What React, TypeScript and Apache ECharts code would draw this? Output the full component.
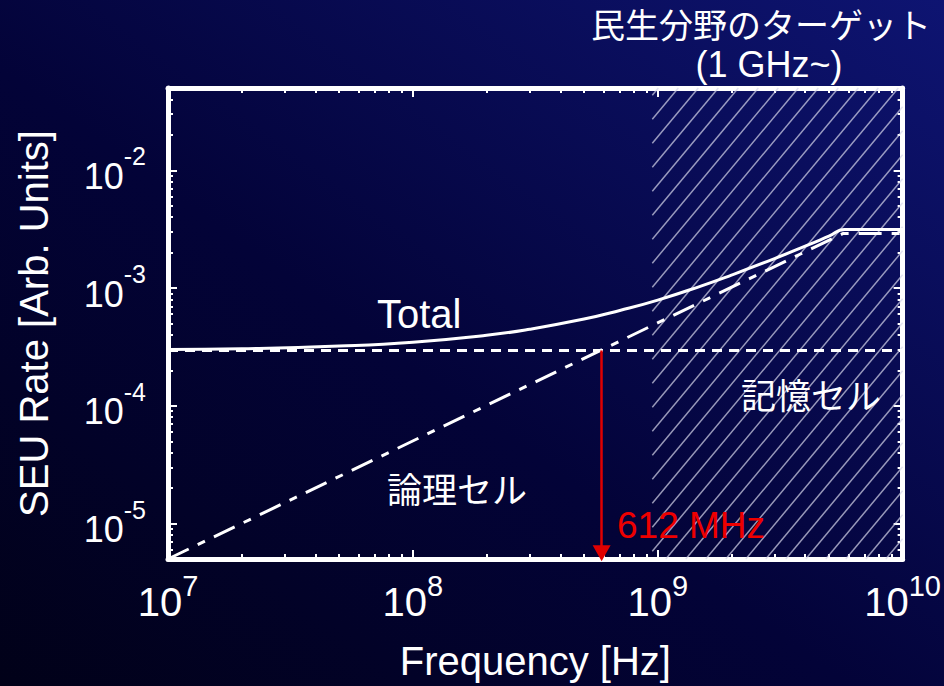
import React, { useEffect, useRef } from 'react';
import * as echarts from 'echarts';

// ---- data ----
const xRange = [1e7, 1e10];
const yRange = [5e-6, 5e-2];
const xMajorTicks = [1e7, 1e8, 1e9, 1e10];
const yMajorTicks = [1e-5, 1e-4, 1e-3, 1e-2];

const memoryFreq = [1e7, 1e10];
const memoryRate = [2.95e-4, 2.95e-4];

const logicFreq = [1e7, 5.7e9, 1e10];
const logicRate = [5.0e-6, 2.9e-3, 2.9e-3];

const totalFreq = [1e7, 2e7, 5e7, 1e8, 2e8, 3e8, 5e8, 7e8, 1e9, 1.5e9, 2e9, 3e9, 4e9, 5e9, 5.8e9, 1e10];
const totalRate = [3.0e-4, 3.05e-4, 3.22e-4, 3.47e-4, 3.97e-4, 4.47e-4, 5.45e-4, 6.45e-4, 7.9e-4, 1.04e-3, 1.29e-3, 1.78e-3, 2.27e-3, 2.76e-3, 3.15e-3, 3.15e-3];

const arrowFreq = 5.9e8;
const arrowTop = 2.95e-4;
const arrowBottom = 5.6e-6;
const hatchStartFreq = 0.95e9;

const titleLine1 = '民生分野のターゲット';
const titleLine2 = '(1 GHz~)';
const xName = 'Frequency [Hz]';
const yName = 'SEU Rate [Arb. Units]';
const labelTotal = 'Total';
const labelLogic = '論理セル';
const labelMemory = '記憶セル';
const labelFreq = '612 MHz';

const LATIN = '"Liberation Sans", Arial, sans-serif';
const CJK = '"Noto Sans CJK JP", "Noto Sans CJK SC", sans-serif';

function minorTicks(min: number, max: number): number[] {
  const out: number[] = [];
  let d = Math.pow(10, Math.floor(Math.log10(min)));
  while (d < max) {
    for (let m = 2; m <= 9; m++) {
      const v = m * d;
      if (v > min * 1.0001 && v < max * 0.9999) out.push(v);
    }
    d *= 10;
  }
  return out;
}

const zip = (a: number[], b: number[]) => a.map((v, i) => [v, b[i]]);

export default function App() {
  const ref = useRef<HTMLDivElement>(null);
  useEffect(() => {
    document.body.style.margin = '0';
    if (!ref.current) return;
    const chart = echarts.init(ref.current, undefined, { renderer: 'svg' });
    const xMinor = minorTicks(xRange[0], xRange[1]);
    const yMinor = minorTicks(yRange[0], yRange[1]);
    const expFmt = (v: number) => `{b|10}{s|${Math.round(Math.log10(v))}}`;

    const baseX = {
      type: 'log' as const,
      logBase: 10,
      min: xRange[0],
      max: xRange[1],
      gridIndex: 0,
      splitLine: { show: false },
      minorTick: { show: false },
    };
    const baseY = {
      type: 'log' as const,
      logBase: 10,
      min: yRange[0],
      max: yRange[1],
      gridIndex: 0,
      splitLine: { show: false },
      minorTick: { show: false },
    };
    const frame = { show: true, lineStyle: { color: '#ffffff', width: 5 } };

    chart.setOption({
      animation: false,
      backgroundColor: {
        type: 'linear',
        x: 0, y: 1, x2: 1, y2: 0,
        colorStops: [
          { offset: 0, color: '#010118' },
          { offset: 0.45, color: '#030338' },
          { offset: 1, color: '#0e1472' },
        ],
      },
      grid: { left: 168, right: 38, top: 88, bottom: 124 },
      xAxis: [
        {
          ...baseX,
          position: 'bottom',
          axisLine: frame,
          axisTick: { show: true, inside: true, length: 9, customValues: xMajorTicks, lineStyle: { color: '#fff', width: 2 } },
          axisLabel: {
            show: true,
            customValues: xMajorTicks,
            margin: 12,
            formatter: expFmt,
            rich: {
              b: { fontSize: 40, color: '#fff', fontFamily: LATIN },
              s: { fontSize: 29, color: '#fff', fontFamily: LATIN, padding: [0, 0, 32, 0] },
            },
          },
          name: xName,
          nameLocation: 'middle',
          nameGap: 82,
          nameTextStyle: { fontSize: 40, color: '#fff', fontFamily: LATIN },
        },
        {
          ...baseX,
          position: 'bottom',
          axisLine: { show: false },
          axisTick: { show: true, inside: true, length: 5, customValues: xMinor, lineStyle: { color: '#fff', width: 2 } },
          axisLabel: { show: false },
        },
        {
          ...baseX,
          position: 'top',
          axisLine: frame,
          axisTick: { show: true, inside: true, length: 9, customValues: xMajorTicks, lineStyle: { color: '#fff', width: 2 } },
          axisLabel: { show: false },
        },
        {
          ...baseX,
          position: 'top',
          axisLine: { show: false },
          axisTick: { show: true, inside: true, length: 5, customValues: xMinor, lineStyle: { color: '#fff', width: 2 } },
          axisLabel: { show: false },
        },
      ],
      yAxis: [
        {
          ...baseY,
          position: 'left',
          axisLine: frame,
          axisTick: { show: true, inside: true, length: 9, customValues: yMajorTicks, lineStyle: { color: '#fff', width: 2 } },
          axisLabel: {
            show: true,
            customValues: yMajorTicks,
            margin: 22,
            formatter: expFmt,
            rich: {
              b: { fontSize: 36, color: '#fff', fontFamily: LATIN, padding: [12, 0, 0, 0] },
              s: { fontSize: 25, color: '#fff', fontFamily: LATIN, padding: [0, 0, 28, 0] },
            },
          },
          name: yName,
          nameLocation: 'middle',
          nameRotate: 90,
          nameGap: 114,
          nameTextStyle: { fontSize: 40, color: '#fff', fontFamily: LATIN },
        },
        {
          ...baseY,
          position: 'left',
          axisLine: { show: false },
          axisTick: { show: true, inside: true, length: 5, customValues: yMinor, lineStyle: { color: '#fff', width: 2 } },
          axisLabel: { show: false },
        },
        {
          ...baseY,
          position: 'right',
          axisLine: frame,
          axisTick: { show: true, inside: true, length: 9, customValues: yMajorTicks, lineStyle: { color: '#fff', width: 2 } },
          axisLabel: { show: false },
        },
        {
          ...baseY,
          position: 'right',
          axisLine: { show: false },
          axisTick: { show: true, inside: true, length: 5, customValues: yMinor, lineStyle: { color: '#fff', width: 2 } },
          axisLabel: { show: false },
        },
      ],
      series: [
        {
          type: 'custom',
          name: 'target',
          xAxisIndex: 0,
          yAxisIndex: 0,
          silent: true,
          z: 1,
          data: [[hatchStartFreq, yRange[0]]],
          renderItem: (_params: any, api: any) => {
            const p0 = api.coord([hatchStartFreq, yRange[1]]);
            const p1 = api.coord([xRange[1], yRange[0]]);
            const x0 = p0[0], y0 = p0[1], x1 = p1[0], y1 = p1[1];
            const H = y1 - y0;
            const k = 1.2;
            const step = 20;
            const children: any[] = [];
            for (let s = x0 - H / k + 6; s < x1; s += step) {
              const xa = Math.max(x0, s);
              const xb = Math.min(x1, s + H / k);
              if (xb <= xa) continue;
              children.push({
                type: 'line',
                shape: { x1: xa, y1: y1 - k * (xa - s), x2: xb, y2: y1 - k * (xb - s) },
                style: { stroke: 'rgba(215,215,235,0.7)', lineWidth: 1.5 },
              });
            }
            return { type: 'group', children };
          },
        },
        {
          type: 'line',
          name: labelMemory,
          data: zip(memoryFreq, memoryRate),
          showSymbol: false,
          symbol: 'none',
          z: 3,
          lineStyle: { color: '#fff', width: 3, type: [10, 7] },
          emphasis: { disabled: true },
        },
        {
          type: 'line',
          name: labelLogic,
          data: zip(logicFreq, logicRate),
          showSymbol: false,
          symbol: 'none',
          z: 3,
          lineStyle: { color: '#fff', width: 3, type: [23, 10, 8, 10] },
          emphasis: { disabled: true },
        },
        {
          type: 'line',
          name: labelTotal,
          data: zip(totalFreq, totalRate),
          showSymbol: false,
          symbol: 'none',
          smooth: 0.5,
          z: 4,
          lineStyle: { color: '#fff', width: 3 },
          emphasis: { disabled: true },
        },
        {
          type: 'line',
          name: 'crossover',
          data: [],
          z: 5,
          markLine: {
            silent: true,
            symbol: ['none', 'triangle'],
            symbolSize: [18, 16],
            symbolRotate: 180,
            label: { show: false },
            lineStyle: { color: '#e00000', width: 2.5, type: 'solid' },
            data: [[{ coord: [arrowFreq, arrowTop] }, { coord: [arrowFreq, arrowBottom] }]],
          },
        },
      ],
      graphic: [
        { type: 'text', x: 761, y: 23, style: { text: titleLine1, fill: '#fff', font: `34px ${CJK}`, textAlign: 'center', textVerticalAlign: 'middle' } },
        { type: 'text', x: 769, y: 64, style: { text: titleLine2, fill: '#fff', font: `36px ${LATIN}`, textAlign: 'center', textVerticalAlign: 'middle' } },
        { type: 'text', x: 377, y: 314, z: 10, style: { text: labelTotal, fill: '#fff', font: `40px ${LATIN}`, textAlign: 'left', textVerticalAlign: 'middle' } },
        { type: 'text', x: 457, y: 487, z: 10, style: { text: labelLogic, fill: '#fff', font: `35px ${CJK}`, textAlign: 'center', textVerticalAlign: 'middle' } },
        { type: 'text', x: 811, y: 393, z: 10, style: { text: labelMemory, fill: '#fff', font: `35px ${CJK}`, textAlign: 'center', textVerticalAlign: 'middle' } },
        { type: 'text', x: 617, y: 525, z: 10, style: { text: labelFreq, fill: '#ee0000', font: `37px ${LATIN}`, textAlign: 'left', textVerticalAlign: 'middle' } },
      ],
    });
    return () => chart.dispose();
  }, []);
  return <div ref={ref} style={{ width: 944, height: 686 }} />;
}
